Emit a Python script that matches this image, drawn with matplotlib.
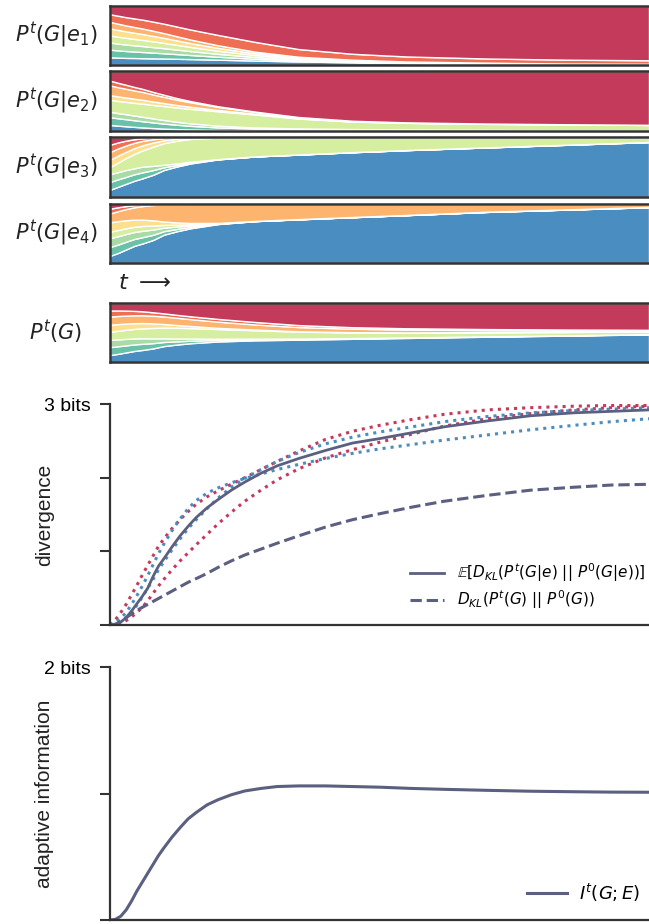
import numpy as np
import matplotlib.pyplot as plt

# time axis for the stacked panels (fraction of the visible run)
t = [0, .015, .03, .045, .06, .08, .1, .125, .15, .2, .27, .35, .45, .55, .7, .85, 1.0]

# finer time axis for the line panels
t_lines = [0, .01, .02, .03, .04, .05, .06, .07, .08, .09, .1, .115, .13, .145, .16, .18,
           .2, .225, .25, .28, .31, .35, .4, .45, .5, .56, .62, .7, .78, .86, .93, 1.0]

# genotype layers, bottom -> top
layer_colors = ['#4a8dc0', '#69c1a7', '#a8dba5', '#d6ee9f',
                '#fde08f', '#fdb46e', '#ef6f55', '#c33a5b']
crimson = layer_colors[-1]
blue = layer_colors[0]

# P^t(G|e1)
p_e1 = [
    [.13, .125, .12, .118, .115, .112, .11, .105, .10, .09, .075, .06, .045, .033, .02, .012, .01],
    [.13, .122, .117, .11, .105, .098, .089, .079, .069, .05, .03, .016, .009, .005, .004, .0025, .002],
    [.12, .115, .11, .105, .10, .093, .086, .076, .066, .049, .03, .016, .009, .0055, .004, .0025, .002],
    [.12, .117, .113, .108, .104, .097, .09, .08, .07, .053, .033, .018, .01, .006, .0045, .003, .002],
    [.12, .115, .11, .105, .10, .093, .085, .075, .065, .048, .03, .016, .009, .005, .004, .0025, .002],
    [.11, .106, .10, .097, .093, .087, .08, .07, .06, .045, .027, .014, .008, .005, .0035, .0025, .002],
    [.13, .135, .14, .145, .15, .155, .16, .165, .17, .175, .165, .13, .10, .085, .07, .065, .06],
    [.14, .165, .19, .21, .23, .265, .30, .35, .40, .49, .61, .73, .81, .855, .89, .91, .92],
]

# P^t(G|e2)
p_e2 = [
    [.10, .09, .08, .07, .06, .05, .04, .032, .025, .016, .01, .007, .005, .004, .003, .002, .002],
    [.13, .125, .12, .112, .105, .095, .085, .073, .062, .045, .032, .025, .02, .017, .013, .01, .008],
    [.09, .088, .085, .08, .076, .068, .06, .05, .042, .03, .018, .011, .007, .005, .003, .002, .001],
    [.20, .205, .21, .215, .22, .228, .235, .24, .245, .245, .22, .165, .125, .11, .10, .095, .09],
    [.08, .077, .074, .07, .065, .058, .05, .042, .035, .022, .013, .007, .004, .003, .002, .001, .001],
    [.16, .155, .148, .14, .132, .12, .105, .09, .076, .053, .03, .016, .008, .005, .003, .002, .001],
    [.08, .075, .068, .06, .052, .043, .035, .027, .02, .011, .006, .003, .002, .001, .001, .001, .001],
    [.16, .20, .235, .27, .30, .355, .40, .46, .51, .60, .69, .77, .83, .86, .88, .89, .90],
]

# P^t(G|e3)
p_e3 = [
    [.12, .17, .22, .27, .31, .37, .45, .51, .56, .63, .68, .71, .75, .785, .83, .875, .92],
    [.13, .125, .115, .108, .10, .079, .045, .026, .015, .003, .001, .001, .001, .001, .001, .001, .001],
    [.13, .12, .115, .10, .095, .07, .042, .024, .013, .003, .001, .001, .001, .001, .001, .001, .001],
    [.12, .16, .20, .24, .27, .32, .36, .38, .38, .36, .32, .29, .25, .215, .17, .125, .08],
    [.12, .115, .105, .095, .085, .07, .05, .032, .018, .006, .002, .001, .001, .001, .001, .001, .001],
    [.13, .12, .105, .09, .075, .055, .035, .02, .01, .003, .001, .001, .001, .001, .001, .001, .001],
    [.12, .10, .08, .06, .042, .025, .013, .006, .003, .001, .0005, .0005, .0005, .0005, .0005, .0005, .0005],
    [.13, .09, .06, .037, .022, .011, .005, .002, .001, .0005, .0005, .0005, .0005, .0005, .0005, .0005, .0005],
]

# P^t(G|e4)
p_e4 = [
    [.12, .17, .23, .29, .33, .39, .48, .54, .59, .66, .71, .74, .78, .815, .87, .91, .95],
    [.15, .143, .131, .117, .107, .088, .059, .038, .024, .005, .001, .001, .001, .001, .001, .001, .001],
    [.15, .142, .131, .118, .108, .089, .06, .04, .024, .006, .001, .001, .001, .001, .001, .001, .001],
    [.11, .105, .098, .089, .082, .068, .046, .031, .019, .004, .001, .001, .001, .001, .001, .001, .001],
    [.16, .15, .135, .12, .108, .088, .058, .038, .022, .005, .001, .001, .001, .001, .001, .001, .001],
    [.15, .17, .19, .21, .23, .26, .29, .31, .32, .32, .285, .255, .22, .185, .13, .09, .05],
    [.08, .065, .05, .036, .024, .012, .005, .002, .001, .0005, .0005, .0005, .0005, .0005, .0005, .0005, .0005],
    [.08, .055, .035, .02, .011, .005, .002, .001, .0005, .0005, .0005, .0005, .0005, .0005, .0005, .0005, .0005],
]

# divergence from the start, in bits (on t_lines)
dkl_e1 = [0, .07, .17, .28, .41, .54, .68, .81, .94, 1.07, 1.17, 1.31, 1.43, 1.54, 1.64, 1.74,
          1.82, 1.91, 2.00, 2.11, 2.22, 2.36, 2.52, 2.63, 2.71, 2.79, 2.86, 2.92, 2.95, 2.97, 2.98, 2.98]
dkl_e2 = [0, 0, .02, .06, .11, .17, .24, .33, .43, .53, .62, .75, .87, .98, 1.09, 1.23,
          1.37, 1.53, 1.68, 1.83, 1.97, 2.12, 2.27, 2.38, 2.48, 2.59, 2.70, 2.80, 2.87, 2.92, 2.95, 2.97]
dkl_e3 = [0, .03, .09, .17, .28, .40, .53, .67, .82, .97, 1.10, 1.28, 1.44, 1.58, 1.69, 1.79,
          1.86, 1.93, 1.99, 2.05, 2.11, 2.18, 2.26, 2.33, 2.39, 2.45, 2.51, 2.58, 2.65, 2.71, 2.76, 2.80]
dkl_e4 = [0, .01, .04, .09, .17, .27, .38, .50, .62, .75, .86, 1.02, 1.17, 1.31, 1.43, 1.58,
          1.72, 1.87, 1.99, 2.11, 2.22, 2.34, 2.46, 2.55, 2.62, 2.69, 2.76, 2.83, 2.88, 2.91, 2.93, 2.95]
dkl_mean = [0, .01, .04, .10, .19, .29, .39, .50, .66, .80, .90, 1.06, 1.21, 1.34, 1.46, 1.59,
            1.70, 1.83, 1.94, 2.06, 2.16, 2.26, 2.37, 2.47, 2.53, 2.61, 2.69, 2.77, 2.84, 2.88, 2.90, 2.92]
dkl_marg = [0, .01, .05, .10, .15, .20, .24, .28, .32, .36, .40, .46, .52, .58, .63, .70,
            .78, .87, .95, 1.03, 1.11, 1.21, 1.33, 1.43, 1.51, 1.60, 1.68, 1.76, 1.83, 1.87, 1.90, 1.91]

# adaptive information I^t(G;E), bits (on t_lines)
info = [0, .005, .03, .08, .15, .23, .30, .37, .44, .51, .57, .655, .73, .80, .85, .91,
        .95, .99, 1.02, 1.04, 1.055, 1.06, 1.06, 1.055, 1.05, 1.04, 1.033, 1.025, 1.018, 1.014, 1.011, 1.01]

line_color = '#5b5f80'
frame_color = '#333333'


def shares(panel):
    arr = np.array(panel, dtype=float)
    return arr / arr.sum(axis=0)


fig = plt.figure(figsize=(6.49, 9.24), dpi=100)
W, H = 649, 924


def px_axes(top, bottom, left=110, right=649):
    return fig.add_axes([left / W, 1 - bottom / H, (right - left) / W, (bottom - top) / H])


stack_panels = [
    (p_e1, r'$P^t(G|e_1)$', 6, 65),
    (p_e2, r'$P^t(G|e_2)$', 71, 131),
    (p_e3, r'$P^t(G|e_3)$', 137, 197),
    (p_e4, r'$P^t(G|e_4)$', 204, 263),
    (None, r'$P^t(G)$', 303, 362),
]

cond = [shares(p) for p in (p_e1, p_e2, p_e3, p_e4)]
marginal = np.mean(cond, axis=0)

for panel, label, top, bottom in stack_panels:
    ax = px_axes(top, bottom)
    data = shares(panel) if panel is not None else marginal
    ax.stackplot(t, *data, colors=layer_colors, edgecolor='white', linewidth=1.0)
    ax.set_xlim(0, 1)
    ax.set_ylim(0, 1)
    ax.set_xticks([])
    ax.set_yticks([])
    for side in ['top', 'bottom', 'left']:
        ax.spines[side].set_color(frame_color)
        ax.spines[side].set_linewidth(1.8)
    ax.spines['right'].set_visible(False)
    ax.text((56 - 110) / 539, 0.5, label, transform=ax.transAxes,
            ha='center', va='center', fontsize=15, color='#222222')

fig.text(118 / W, 1 - 283 / H, r'$t\ \longrightarrow$', fontsize=16,
         ha='left', va='center', color='#222222')

label_font = ['Liberation Sans', 'DejaVu Sans']


def style_line_axes(ax, ymax, top_label, ylabel):
    ax.set_xlim(0, 1)
    ax.set_ylim(0, ymax)
    ax.set_xticks([])
    ax.set_yticks(range(ymax + 1))
    ax.set_yticklabels([''] * ymax + [top_label], fontfamily=label_font, fontsize=14)
    ax.tick_params(axis='y', length=7, width=1.5, color=frame_color, pad=6.5)
    for side in ['top', 'right']:
        ax.spines[side].set_visible(False)
    for side in ['left', 'bottom']:
        ax.spines[side].set_color(frame_color)
        ax.spines[side].set_linewidth(1.6)
    ax.set_ylabel(ylabel, fontfamily=label_font, fontsize=15, color='#222222')
    ax.yaxis.set_label_coords((54 - 110) / 539, 0.5)


# divergence panel
ax_d = px_axes(404, 625)
ax_d.plot(t_lines, dkl_e1, color=crimson, ls=':', lw=2.2)
ax_d.plot(t_lines, dkl_e2, color=crimson, ls=':', lw=2.2)
ax_d.plot(t_lines, dkl_e3, color=blue, ls=':', lw=2.2)
ax_d.plot(t_lines, dkl_e4, color=blue, ls=':', lw=2.2)
ax_d.plot(t_lines, dkl_mean, color=line_color, lw=2.0,
          label=r'$\mathbb{E}[D_{KL}(P^t(G|e)\ ||\ P^0(G|e))]$')
ax_d.plot(t_lines, dkl_marg, color=line_color, lw=2.2, ls='--',
          label=r'$D_{KL}(P^t(G)\ ||\ P^0(G))$')
style_line_axes(ax_d, 3, '3 bits', 'divergence')
ax_d.legend(loc='lower right', bbox_to_anchor=(1.0 + 10 / 539, 0.0), frameon=False,
            fontsize=11, handlelength=2.2, handletextpad=0.85, labelspacing=0.3)

# adaptive information panel
ax_i = px_axes(667, 920)
ax_i.plot(t_lines, info, color=line_color, lw=2.2, label=r'$I^t(G;E)$')
style_line_axes(ax_i, 2, '2 bits', 'adaptive information')
ax_i.legend(loc='lower right', bbox_to_anchor=(1.0 + 8 / 539, 0.0), frameon=False,
            fontsize=13, handlelength=2.2, handletextpad=0.7)

fig.savefig('out.png', dpi=100)
